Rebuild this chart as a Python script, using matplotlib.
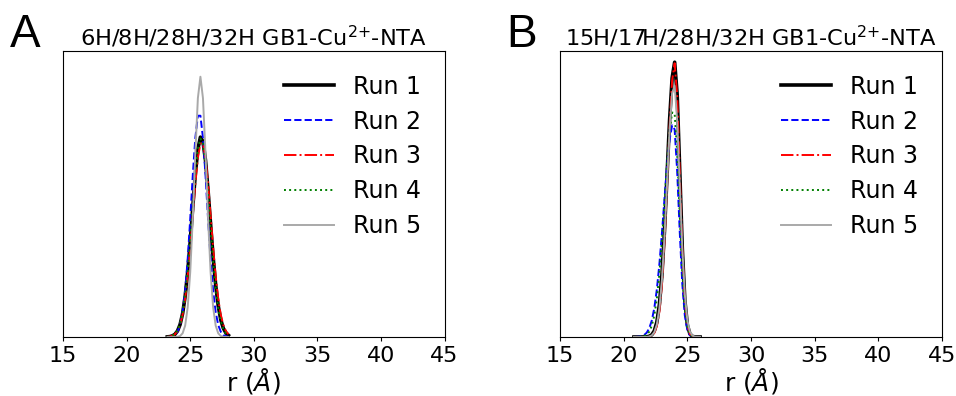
import matplotlib
matplotlib.use('Agg')
import matplotlib.pyplot as plt

# Distance distributions P(r) (arbitrary density units)
r_a = [23.2, 23.4, 23.6, 23.8, 24.0, 24.2, 24.4, 24.6, 24.8, 25.0, 25.2, 25.4, 25.6,
       25.8, 26.0, 26.2, 26.4, 26.6, 26.8, 27.0, 27.2, 27.4, 27.6, 27.8, 28.0]
a_run1 = [0.0004, 0.0012, 0.0033, 0.0078, 0.0173, 0.0354, 0.0667, 0.116, 0.185, 0.273, 0.370, 0.464, 0.535,
          0.569, 0.557, 0.503, 0.418, 0.321, 0.227, 0.148, 0.089, 0.049, 0.025, 0.0118, 0.0051]
a_run2 = [0.0002, 0.0007, 0.0021, 0.0058, 0.0149, 0.0342, 0.0708, 0.132, 0.222, 0.337, 0.461, 0.567, 0.630,
          0.630, 0.567, 0.461, 0.337, 0.222, 0.132, 0.0708, 0.0342, 0.0149, 0.0058, 0.0021, 0.0007]
a_run3 = [0.0005, 0.0013, 0.0034, 0.0079, 0.0171, 0.0342, 0.0635, 0.109, 0.173, 0.255, 0.347, 0.437, 0.510,
          0.551, 0.551, 0.510, 0.437, 0.347, 0.255, 0.173, 0.109, 0.0635, 0.0342, 0.0171, 0.0079]
a_run4 = [0.0005, 0.0014, 0.0037, 0.0086, 0.0188, 0.0378, 0.0703, 0.121, 0.191, 0.280, 0.376, 0.467, 0.535,
          0.565, 0.550, 0.493, 0.406, 0.309, 0.216, 0.140, 0.083, 0.045, 0.023, 0.0106, 0.0045]
a_run5 = [0.0, 0.0, 0.0, 0.0001, 0.0007, 0.0029, 0.0105, 0.0325, 0.0846, 0.185, 0.339, 0.524, 0.680,
          0.741, 0.680, 0.524, 0.339, 0.185, 0.0846, 0.0325, 0.0105, 0.0029, 0.0007, 0.0001, 0.0]

r_b = [20.8, 21.0, 21.2, 21.4, 21.6, 21.8, 22.0, 22.2, 22.4, 22.6, 22.8, 23.0, 23.2, 23.4,
       23.6, 23.8, 24.0, 24.2, 24.4, 24.6, 24.8, 25.0, 25.2, 25.4, 25.6, 25.8, 26.0]
b_run1 = [0.0, 0.0, 0.0, 0.0, 0.0002, 0.0006, 0.0021, 0.0066, 0.0181, 0.0442, 0.0957, 0.184, 0.314, 0.477,
          0.642, 0.767, 0.814, 0.718, 0.494, 0.264, 0.110, 0.0357, 0.0090, 0.0018, 0.0003, 0.0, 0.0]
b_run2 = [0.0001, 0.0004, 0.0010, 0.0024, 0.0058, 0.0126, 0.0256, 0.0485, 0.0857, 0.141, 0.216, 0.308, 0.409, 0.507,
          0.584, 0.627, 0.615, 0.490, 0.312, 0.158, 0.0637, 0.0205, 0.0053, 0.0011, 0.0002, 0.0, 0.0]
b_run3 = [0.0, 0.0, 0.0, 0.0, 0.0001, 0.0003, 0.0011, 0.0038, 0.0118, 0.0318, 0.0751, 0.155, 0.282, 0.447,
          0.623, 0.759, 0.811, 0.716, 0.492, 0.263, 0.110, 0.0356, 0.0090, 0.0018, 0.0003, 0.0, 0.0]
b_run4 = [0.0, 0.0001, 0.0004, 0.0010, 0.0028, 0.0069, 0.0157, 0.0330, 0.0639, 0.114, 0.188, 0.285, 0.398, 0.512,
          0.608, 0.665, 0.663, 0.546, 0.362, 0.193, 0.083, 0.0288, 0.0080, 0.0018, 0.0003, 0.0, 0.0]
b_run5 = [0.0, 0.0, 0.0, 0.0, 0.0001, 0.0004, 0.0014, 0.0047, 0.0141, 0.0368, 0.0842, 0.169, 0.296, 0.454,
          0.612, 0.722, 0.744, 0.642, 0.454, 0.264, 0.126, 0.0492, 0.0158, 0.0042, 0.0009, 0.0002, 0.0]

run_labels = ['Run 1', 'Run 2', 'Run 3', 'Run 4', 'Run 5']
xticks = [15, 20, 25, 30, 35, 40, 45]

styles = [
    dict(color='black', linestyle='-', linewidth=2.6),
    dict(color='blue', linestyle='--', linewidth=1.4),
    dict(color='red', linestyle='-.', linewidth=1.4),
    dict(color='green', linestyle=':', linewidth=1.4),
    dict(color='#a9a9a9', linestyle='-', linewidth=1.4),
]

panels = [
    ('A', '6H/8H/28H/32H GB1-Cu$^{2{+}}$-NTA', r_a, [a_run1, a_run2, a_run3, a_run4, a_run5], 0.814),
    ('B', '15H/17H/28H/32H GB1-Cu$^{2{+}}$-NTA', r_b, [b_run1, b_run2, b_run3, b_run4, b_run5], 0.847),
]

fig = plt.figure(figsize=(9.56, 3.96), dpi=100)
lefts = [0.066, 0.586]

for left, (letter, title, r, runs, ytop) in zip(lefts, panels):
    ax = fig.add_axes([left, 0.149, 0.399, 0.722])
    for i in range(5):
        ax.plot(r, runs[i], label=run_labels[i], **styles[i])
    ax.set_xlim(15, 45)
    ax.set_ylim(0, ytop)
    ax.set_xticks(xticks)
    ax.set_yticks([])
    ax.tick_params(axis='x', labelsize=16, length=3)
    ax.set_xlabel(r'r ($\AA$)', fontsize=18, labelpad=0)
    ax.set_title(title, fontsize=16.2, pad=4)
    ax.legend(loc='upper right', frameon=False, fontsize=17, handlelength=2.1,
              labelspacing=0.46, borderaxespad=0.6, handletextpad=0.8)
    fig.text(left - 0.056, 0.881, letter, fontsize=33, family='Liberation Sans',
             ha='left', va='baseline')

fig.savefig('out.png', dpi=100)
